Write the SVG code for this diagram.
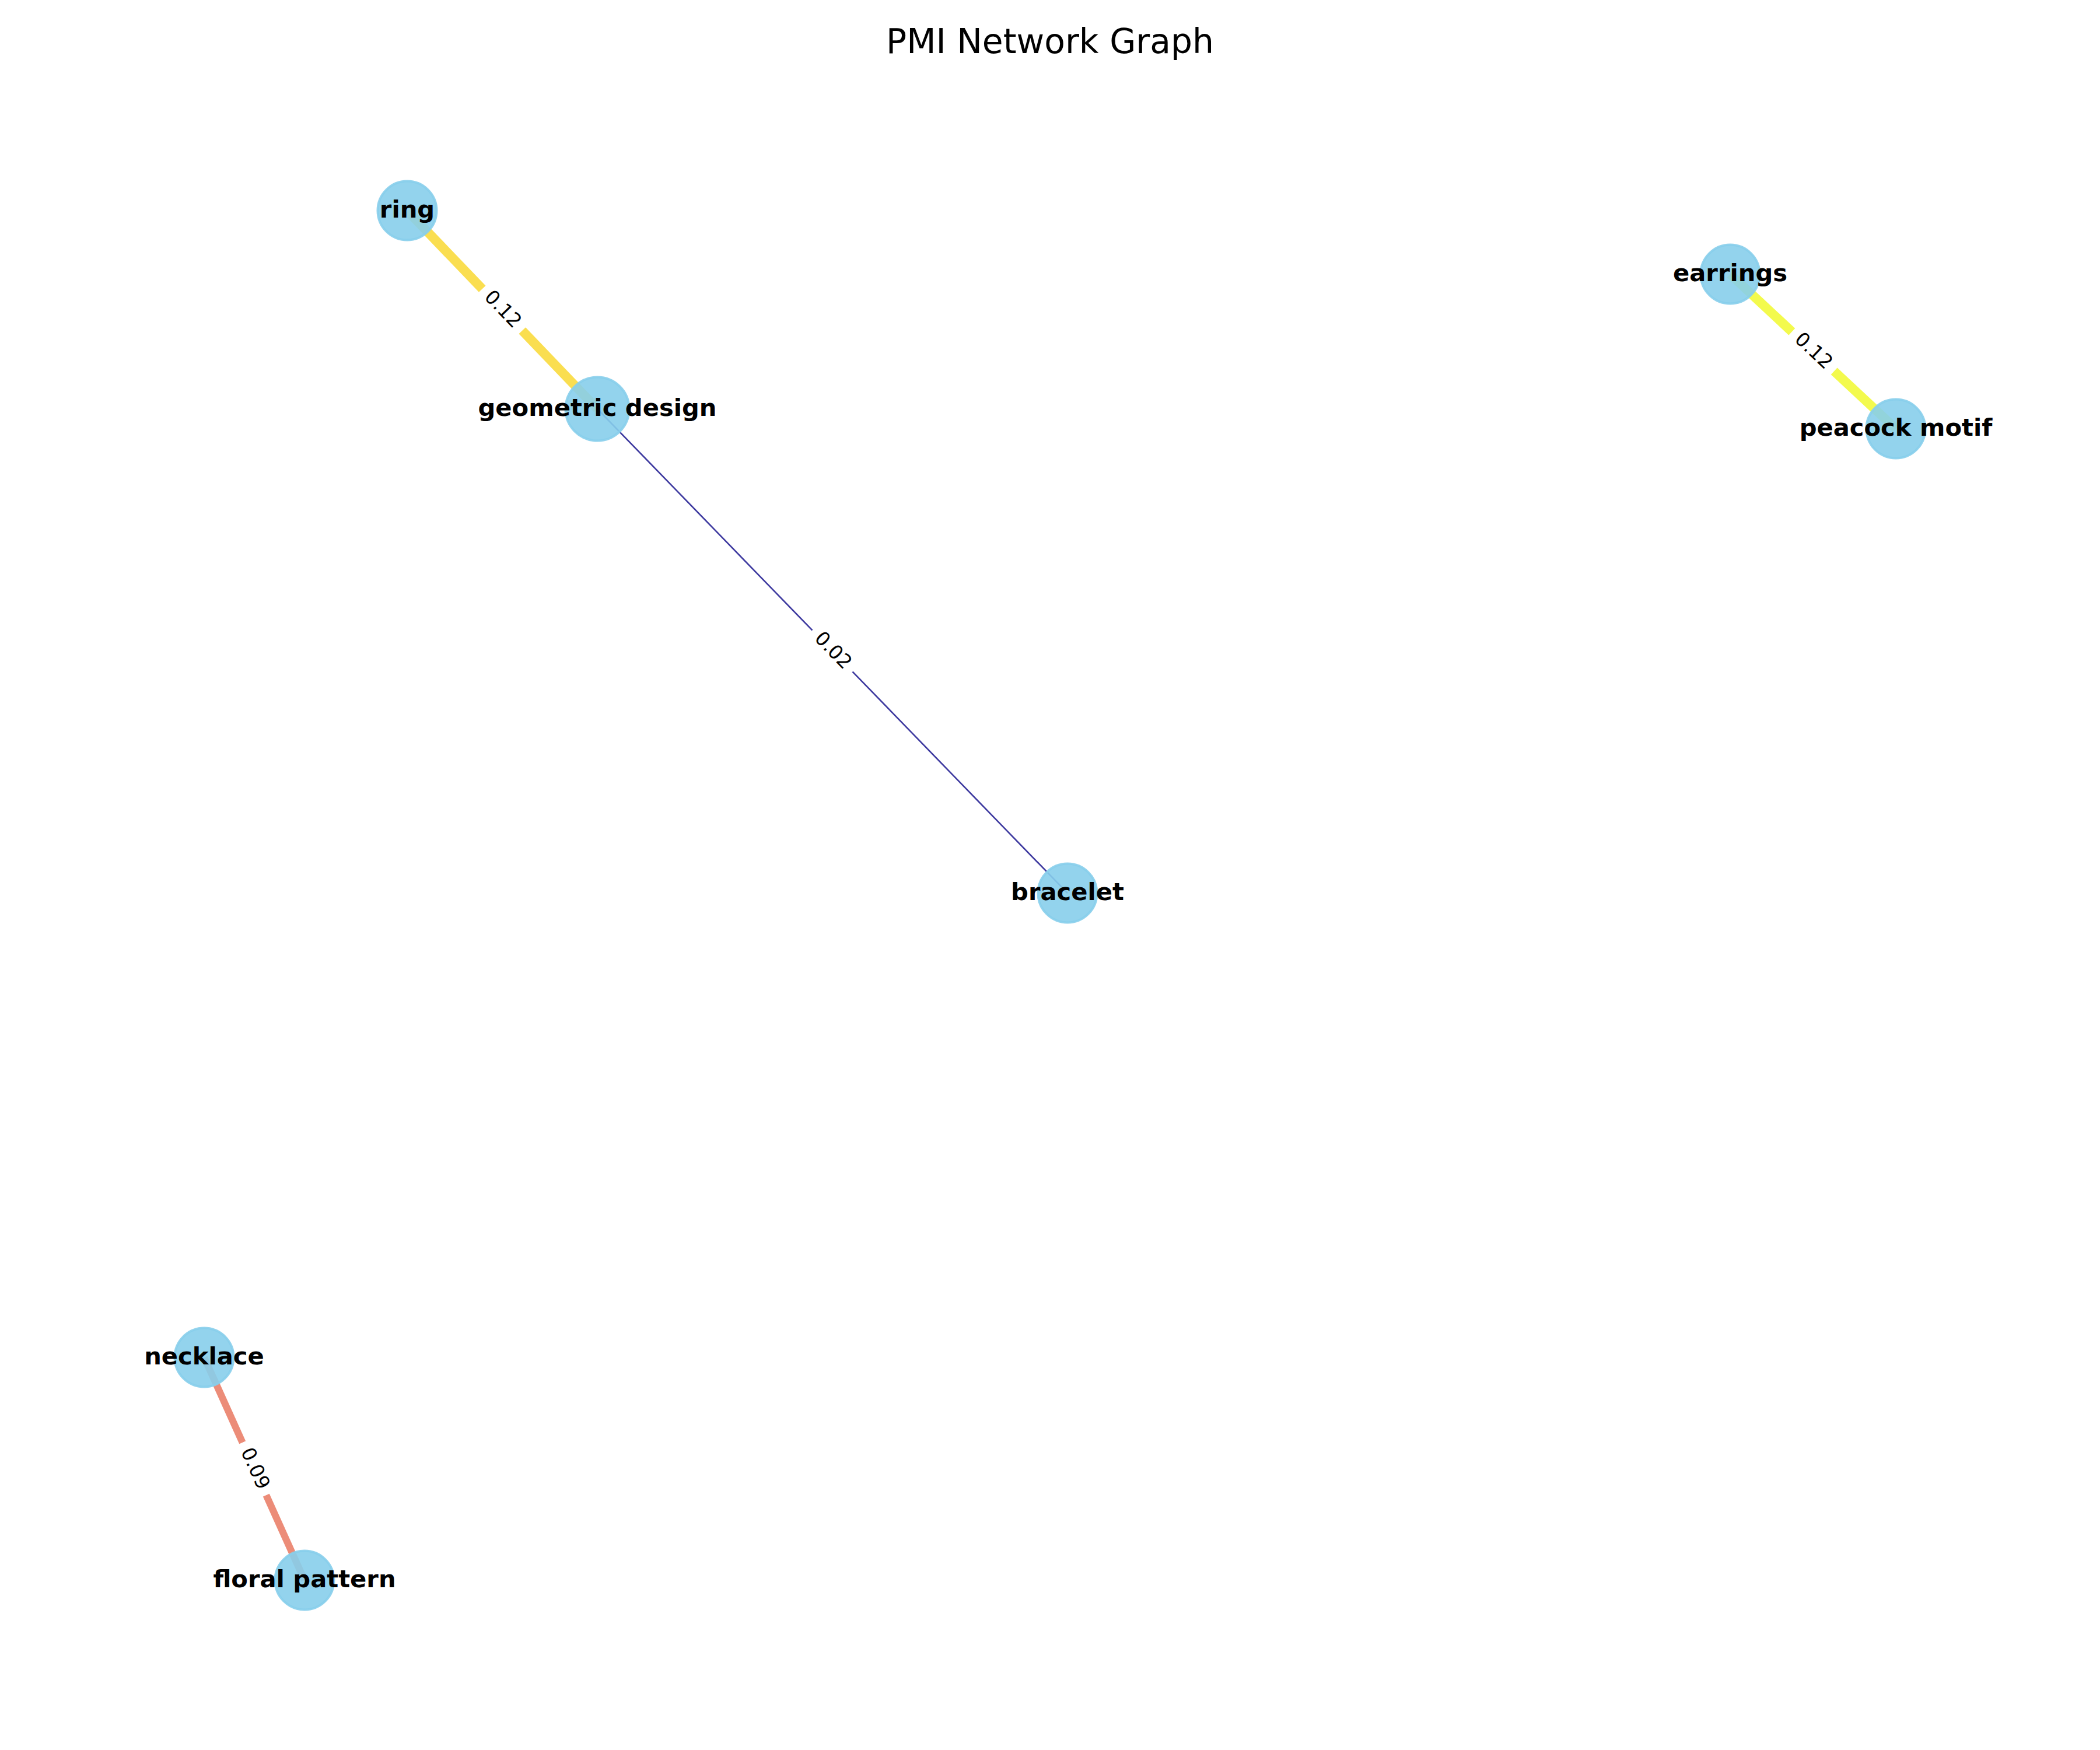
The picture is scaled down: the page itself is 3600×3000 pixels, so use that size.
<svg xmlns="http://www.w3.org/2000/svg" width="3600" height="3000" viewBox="0 0 3600 3000">
<style>
.node circle{fill:#87CEEB;fill-opacity:0.9;stroke:#87CEEB;stroke-opacity:0.9;stroke-width:4}
.node text{font-family:"DejaVu Sans",sans-serif;font-weight:bold;font-size:41.67px;text-anchor:middle;fill:#000}
.edge{stroke-opacity:0.8;stroke-linecap:butt;fill:none}
.elabel rect{fill:#fff;stroke:#fff}
.elabel text{font-family:"DejaVu Sans",sans-serif;font-size:33.3px;text-anchor:middle;fill:#000}
.title{font-family:"DejaVu Sans",sans-serif;font-size:58.3px;text-anchor:middle;fill:#000}
</style>
<rect width="3600" height="3000" fill="#fff"/>
<text class="title" x="1800" y="91">PMI Network Graph</text>
<g id="connectors">
<line class="edge" x1="698" y1="361" x2="1024" y2="701" stroke="#F9D624" stroke-width="16"/>
<line class="edge" x1="2966" y1="470" x2="3250" y2="735" stroke="#F0F921" stroke-width="16"/>
<line class="edge" x1="350" y1="2327" x2="522" y2="2709" stroke="#E76F56" stroke-width="12"/>
<line class="edge" x1="1024" y1="701" x2="1830" y2="1531" stroke="#0D0887" stroke-width="2.6"/>
</g>
<g id="node-ring" class="node"><circle cx="698" cy="361" r="50.5"/><text x="698" y="373">ring</text></g>
<g id="node-geometric-design" class="node"><circle cx="1024" cy="701" r="54.5"/><text x="1024" y="713">geometric design</text></g>
<g id="node-earrings" class="node"><circle cx="2966" cy="470" r="50.5"/><text x="2966" y="482">earrings</text></g>
<g id="node-peacock-motif" class="node"><circle cx="3250" cy="735" r="50.5"/><text x="3250" y="747">peacock motif</text></g>
<g id="node-bracelet" class="node"><circle cx="1830" cy="1531" r="50.5"/><text x="1830" y="1543">bracelet</text></g>
<g id="node-necklace" class="node"><circle cx="350" cy="2327" r="50.5"/><text x="350" y="2339">necklace</text></g>
<g id="node-floral-pattern" class="node"><circle cx="522" cy="2709" r="50.5"/><text x="522" y="2721">floral pattern</text></g>
<g id="edge-labels">
<g class="elabel" transform="translate(861,531) rotate(46.2)"><rect x="-49" y="-26" width="98" height="52" rx="10"/><text x="0" y="9">0.12</text></g>
<g class="elabel" transform="translate(3108,602.5) rotate(43)"><rect x="-49" y="-26" width="98" height="52" rx="10"/><text x="0" y="9">0.12</text></g>
<g class="elabel" transform="translate(436,2518) rotate(65.8)"><rect x="-49" y="-26" width="98" height="52" rx="10"/><text x="0" y="9">0.09</text></g>
<g class="elabel" transform="translate(1427,1116) rotate(45.8)"><rect x="-49" y="-26" width="98" height="52" rx="10"/><text x="0" y="9">0.02</text></g>
</g>
</svg>
